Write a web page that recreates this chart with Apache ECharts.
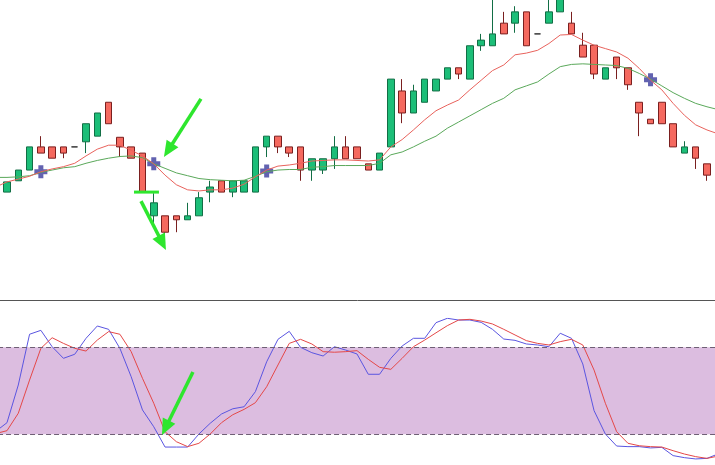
<!DOCTYPE html>
<html><head><meta charset="utf-8">
<script src="https://cdn.jsdelivr.net/npm/echarts@6/dist/echarts.min.js"></script>
<style>html,body{margin:0;padding:0;background:#fff;overflow:hidden}#c{width:715px;height:465px}</style>
</head><body><div id="c"></div>
<script>
// ---- data (price units) ----
// candles 1..63 : [open, close, low, high]
const candles = [
 [19.1,20.9,19.1,20.9],[21.1,23.0,21.1,23.0],[23.0,27.1,23.0,27.1],[27.1,26.0,26.0,29.0],[27.1,25.1,25.1,27.1],
 [27.1,26.0,25.1,27.1],[27.1,27.1,27.1,27.1],[28.0,31.2,26.0,31.2],[29.0,33.1,29.0,33.1],[35.0,31.2,31.2,35.0],
 [28.8,27.1,25.3,28.8],[27.1,25.1,25.1,27.1],[26.0,19.1,19.1,26.0],[14.9,17.2,13.6,18.9],[14.9,12.0,11.2,14.9],
 [14.9,14.2,12.0,14.9],[14.2,14.9,14.2,17.2],[14.9,18.1,14.9,19.1],[19.1,20.0,17.3,21.1],[21.1,19.1,19.1,21.1],
 [19.1,21.1,18.2,21.1],[19.1,21.1,19.1,21.1],[19.1,27.1,19.1,27.1],[27.1,29.0,25.3,29.0],[29.0,27.1,26.0,29.0],
 [27.1,26.0,25.3,27.1],[27.1,23.0,21.1,27.1],[23.0,25.0,21.1,25.0],[23.0,25.0,22.3,25.0],[25.0,27.1,23.2,29.0],
 [27.1,25.0,25.0,29.0],[27.1,25.0,25.0,27.1],[24.1,23.0,23.0,24.1],[23.0,26.0,23.0,26.0],[27.1,39.1,27.1,39.1],
 [37.0,33.1,31.3,39.1],[33.1,37.0,33.1,38.1],[35.0,39.1,35.0,39.1],[37.0,39.1,37.0,39.1],[39.1,41.1,39.1,41.1],
 [41.1,40.0,39.1,41.1],[39.1,45.0,39.1,45.0],[45.0,46.0,44.1,47.1],[45.0,47.1,45.0,54.0],[49.0,47.1,47.1,51.0],
 [49.0,51.0,47.3,52.0],[51.0,45.0,45.0,51.0],[47.1,47.1,47.1,47.1],[49.0,51.0,49.0,54.0],[51.0,53.6,51.0,53.6],
 [49.0,47.1,47.1,51.0],[45.1,43.0,43.0,47.3],[45.1,40.0,39.1,45.1],[39.1,41.1,39.1,41.1],[43.0,41.1,39.1,43.0],
 [41.1,38.1,37.2,41.1],[35.0,33.1,29.0,35.0],[32.0,31.2,31.2,32.0],[35.0,31.2,31.2,35.0],[31.2,27.1,27.1,31.2],
 [26.0,27.1,26.0,28.1],[27.1,25.1,23.2,27.1],[24.1,22.1,21.1,24.1]
];
// moving averages, points 0..64 (0 and 64 lie just outside the view)
const maFast = [20.0,20.9,21.4,21.9,22.7,23.2,23.6,24.2,25.5,26.7,27.4,27.4,26.5,25.5,24.1,22.1,20.4,19.5,19.3,19.5,
 19.5,19.8,20.5,21.8,23.0,23.7,23.9,24.2,24.6,24.7,24.8,24.8,24.7,24.6,24.8,27.1,28.4,30.1,31.9,33.5,
 34.5,35.4,37.2,38.9,40.6,41.6,43.4,43.7,44.2,45.4,46.9,47.0,46.0,45.1,44.5,43.9,42.8,41.0,38.9,37.2,
 34.8,32.7,31.0,30.1,29.4];
const maSlow = [21.7,21.7,21.8,22.0,22.6,23.0,23.4,23.6,24.2,24.7,25.1,25.4,25.5,25.2,24.1,23.3,22.5,22.0,21.5,21.3,
 21.2,21.1,21.2,21.9,22.7,23.0,23.1,23.1,23.5,23.6,23.8,23.8,23.8,23.8,24.2,25.7,26.2,27.1,28.1,29.0,
 30.4,31.5,32.6,33.7,34.8,35.7,37.2,37.9,38.6,40.0,41.3,41.7,41.8,41.7,41.6,41.5,41.0,40.1,39.1,37.9,
 36.7,35.7,34.8,34.2,33.7];
// cross markers
const crossIdx = [4,14,24,58];
const crossVal = [22.7,24.1,22.85,39.0];
// stochastic, points 0..64
const stochK = [22,28,54,89,91.7,80.4,72.4,75.2,86.2,94.7,92.4,79.3,59.7,36.8,25.2,11.2,11.2,11.2,20.2,27.6,
 34,37.6,39,49.4,70,85.5,91,80,76.3,74,80.4,78.1,75.4,61.4,61.4,72.4,80.9,86.2,86.2,97,
 100,98.8,98.8,97.2,92.4,85.7,84.8,82.3,81.6,80.4,89.7,86.2,68.5,36.3,20.2,11.9,11.5,11.5,10.6,11,
 5.3,3.9,3,3.4,6.5];
const stochD = [20.5,22.5,34.5,57.4,79.3,86.6,82.7,79.3,77.4,85,90.8,89,77,58.6,41.4,21.8,14.9,11.5,13.8,20.2,
 28,33.5,37.2,41.8,52.8,67.8,82.7,85.5,82.3,77,76.6,77,77.7,71.7,66.2,64.8,72.4,80.4,85,90,
 94.9,98.8,99.3,98.1,96.1,92.4,88.5,84.6,82.7,81.6,83.9,85.5,81.6,64.3,41.4,21.8,13.8,12.1,11.5,11.2,
 8.7,6.4,4.6,3.4,5];
const levels = [20, 80];
// annotation arrows in data units: [index, value]
const arrowsTop = [[[18.18,35.6],[14.9,25.3]], [[12.87,17.5],[15.08,8.85]]];
const closeMark = [[12.25,19.1],[14.46,19.1]];
const arrowsBottom = [[[17.47,63],[14.73,19.5]]];

const categories = Array.from({length:65},(_,i)=>'B'+i);

// ---- build ----
const UP='#1cbe78', UPB='#126e45', DN='#f5695f', DNB='#7a1f1f';
const candleData = ['-'].concat(candles.map(c => c[0]===c[1]
  ? {value:c, itemStyle:{borderColor:'#333',borderColor0:'#333',color:'#333',color0:'#333'}}
  : c)).concat(['-']);
const CW = 11.29, L = 1.35 - CW, W = 65*CW;
const chart = echarts.init(document.getElementById('c'));
chart.setOption({
  animation:false,
  backgroundColor:'#fff',
  grid:[{left:L,width:W,top:0,height:300,outerBoundsMode:'none',containLabel:false},
        {left:L,width:W,top:318.3,height:145,outerBoundsMode:'none',containLabel:false}],
  xAxis:[
    {type:'category',data:categories,gridIndex:0,boundaryGap:true,axisLine:{show:true,lineStyle:{color:'#555',width:1}},axisTick:{show:false},axisLabel:{show:false},splitLine:{show:false}},
    {type:'category',data:categories,gridIndex:1,boundaryGap:true,axisLine:{show:false},axisTick:{show:false},axisLabel:{show:false},splitLine:{show:false}}
  ],
  yAxis:[
    {type:'value',gridIndex:0,min:0,max:53.1,axisLine:{show:false},axisTick:{show:false},axisLabel:{show:false},splitLine:{show:false}},
    {type:'value',gridIndex:1,min:0,max:100,axisLine:{show:false},axisTick:{show:false},axisLabel:{show:false},splitLine:{show:false}}
  ],
  series:[
    {type:'candlestick',xAxisIndex:0,yAxisIndex:0,data:candleData,barWidth:7,clip:true,
     itemStyle:{color:UP,color0:DN,borderColor:UPB,borderColor0:DNB,borderWidth:1}},
    {type:'scatter',xAxisIndex:0,yAxisIndex:0,z:2,
     data:crossIdx.map((d,i)=>[d,crossVal[i]]),
     symbol:'path://M4,0 H9 V4 H13 V9 H9 V13 H4 V9 H0 V4 H4 Z',symbolSize:13,
     itemStyle:{color:'#4646a2',opacity:0.85}},
    {type:'line',xAxisIndex:0,yAxisIndex:0,data:maSlow,showSymbol:false,smooth:false,z:3,
     lineStyle:{color:'#5aa85a',width:1}},
    {type:'line',xAxisIndex:0,yAxisIndex:0,data:maFast,showSymbol:false,smooth:false,z:3,
     lineStyle:{color:'#e8625c',width:1}},
    {type:'line',xAxisIndex:1,yAxisIndex:1,data:stochK,showSymbol:false,z:3,
     lineStyle:{color:'#5a55e0',width:1},
     markArea:{silent:true,itemStyle:{color:'#dcbde0'},data:[[{yAxis:levels[0]},{yAxis:levels[1]}]]},
     markLine:{silent:true,symbol:'none',label:{show:false},lineStyle:{color:'#6f5f75',type:[5,3],width:1},
       data:levels.map(v=>({yAxis:v}))}},
    {type:'line',xAxisIndex:1,yAxisIndex:1,data:stochD,showSymbol:false,z:4,
     lineStyle:{color:'#e44848',width:1}}
  ]
});

function toPx(g, p){
  const i0=Math.floor(p[0]);
  const a=chart.convertToPixel({gridIndex:g},[i0,p[1]]);
  const b=chart.convertToPixel({gridIndex:g},[i0+1,p[1]]);
  return [a[0]+(p[0]-i0)*(b[0]-a[0]), a[1]];
}
const G='#2ee62e';
function arrow(p0,p1){
  const hl=16, hw=14;
  const dx=p1[0]-p0[0], dy=p1[1]-p0[1], len=Math.hypot(dx,dy), ux=dx/len, uy=dy/len;
  const bx=p1[0]-ux*hl, by=p1[1]-uy*hl, nx=-uy, ny=ux;
  return [
    {type:'line',z:100,shape:{x1:p0[0],y1:p0[1],x2:bx+ux*2,y2:by+uy*2},style:{stroke:G,lineWidth:3.5}},
    {type:'polygon',z:100,shape:{points:[[p1[0],p1[1]],[bx+nx*hw/2,by+ny*hw/2],[bx-nx*hw/2,by-ny*hw/2]]},style:{fill:G}}
  ];
}
let gfx=[];
arrowsTop.forEach(a=>{gfx=gfx.concat(arrow(toPx(0,a[0]),toPx(0,a[1])));});
arrowsBottom.forEach(a=>{gfx=gfx.concat(arrow(toPx(1,a[0]),toPx(1,a[1])));});
const m0=toPx(0,closeMark[0]), m1=toPx(0,closeMark[1]);
gfx.push({type:'line',z:100,shape:{x1:m0[0],y1:m0[1],x2:m1[0],y2:m1[1]},style:{stroke:G,lineWidth:3}});
chart.setOption({graphic:gfx});
</script>
</body></html>
